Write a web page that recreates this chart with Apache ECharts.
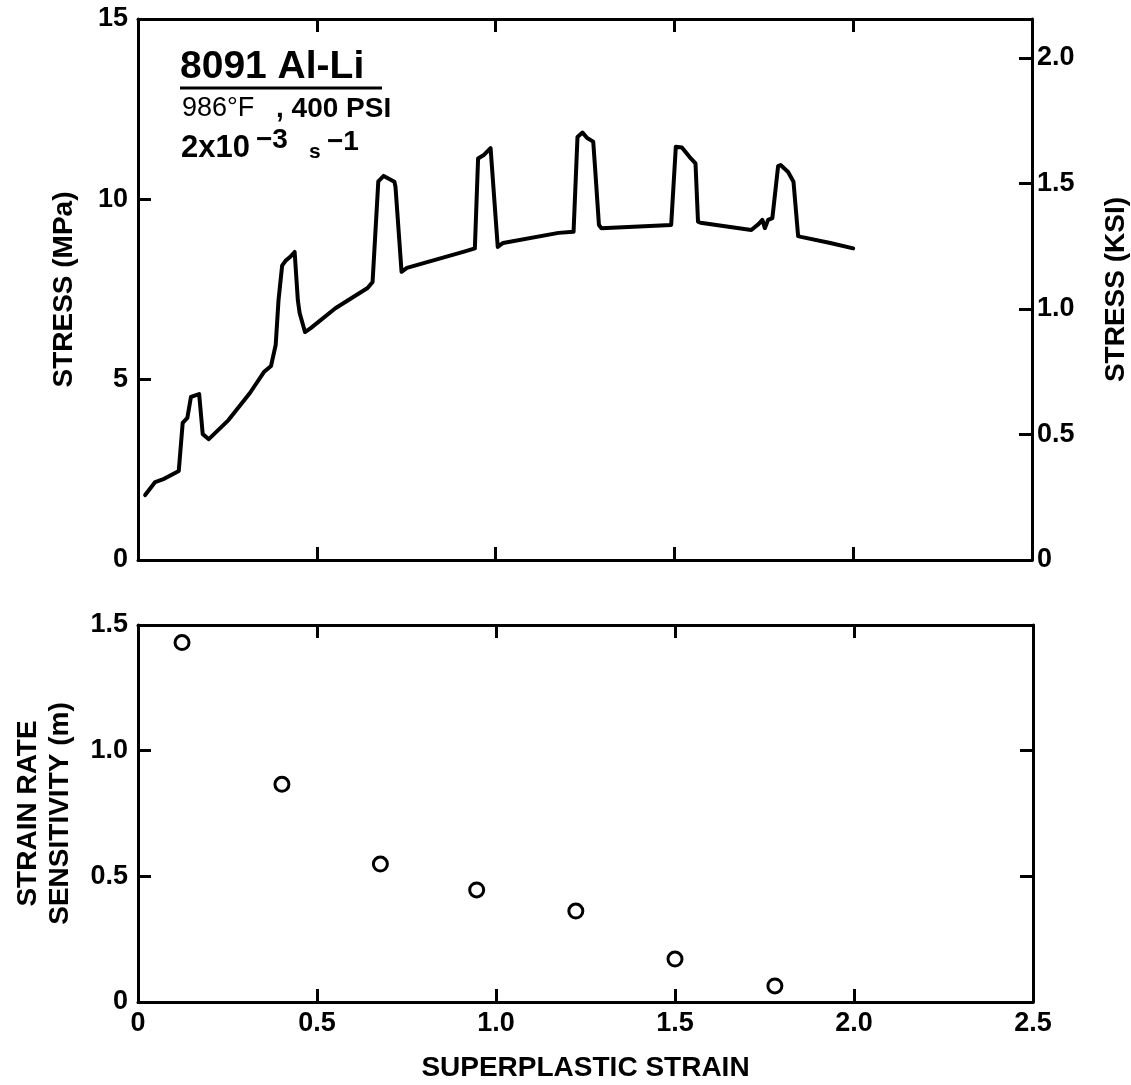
<!DOCTYPE html>
<html>
<head>
<meta charset="utf-8">
<script src="https://cdn.jsdelivr.net/npm/echarts@6/dist/echarts.min.js"></script>
<style>
html,body{margin:0;padding:0;background:#fff;overflow:hidden;}
#chart{width:1131px;height:1085px;}
</style>
</head>
<body>
<div id="chart"></div>
<script>
// ---- data ----
const strain = [0.02,0.048,0.073,0.093,0.114,0.125,0.138,0.148,0.171,0.181,0.198,0.253,0.313,0.352,0.372,0.385,0.393,0.403,0.413,0.425,0.438,0.447,0.452,0.467,0.483,0.552,0.642,0.656,0.672,0.687,0.717,0.72,0.737,0.752,0.912,0.942,0.951,0.966,0.986,0.99,1.006,1.021,1.176,1.218,1.229,1.243,1.256,1.273,1.278,1.289,1.296,1.491,1.504,1.521,1.542,1.559,1.566,1.573,1.715,1.736,1.746,1.753,1.762,1.774,1.79,1.797,1.818,1.833,1.846,1.854,1.936,2.0];
const stressMPa = [1.8,2.16,2.25,2.36,2.47,3.8,3.94,4.52,4.6,3.49,3.35,3.88,4.63,5.21,5.38,5.96,7.21,8.16,8.3,8.4,8.54,7.2,6.85,6.32,6.43,6.98,7.54,7.71,10.5,10.65,10.49,10.35,7.99,8.1,8.55,8.64,11.13,11.22,11.42,11.37,8.68,8.79,9.07,9.1,11.73,11.85,11.7,11.6,10.9,9.29,9.2,9.29,11.46,11.44,11.18,11.0,9.38,9.35,9.15,9.32,9.43,9.2,9.43,9.48,10.92,10.95,10.76,10.49,8.98,8.96,8.79,8.64];
const mStrain = [0.123,0.402,0.677,0.946,1.223,1.5,1.779];
const mValue = [1.43,0.866,0.549,0.446,0.362,0.171,0.064];
const xTickLabels = ['0','0.5','1.0','1.5','2.0','2.5'];
const stressTickLabels = ['0','5','10','15'];
const ksiTickLabels = ['0','0.5','1.0','1.5','2.0'];
const mTickLabels = ['0','0.5','1.0','1.5'];

const FONT = '"Liberation Sans", Arial, Helvetica, sans-serif';
const black = '#000';
const lineW = 3;

function lab(arr, step) {
  return function (v) {
    const i = Math.round(v / step);
    if (Math.abs(v - i * step) > 1e-6) return '';
    return arr[i] !== undefined ? arr[i] : '';
  };
}
const axLine = {show: true, onZero: false, lineStyle: {color: black, width: lineW}};
const tick = {show: true, inside: true, length: 13, lineStyle: {color: black, width: 3}};
const labStyle = {color: black, fontFamily: FONT, fontWeight: 'bold', fontSize: 27};
const nameStyle = {color: black, fontFamily: FONT, fontWeight: 'bold', fontSize: 28};

const chart = echarts.init(document.getElementById('chart'), null, {renderer: 'canvas'});
chart.setOption({
  backgroundColor: '#fff',
  animation: false,
  grid: [
    {left: 138, top: 19, right: 99, height: 541, outerBoundsMode: 'none', containLabel: false},
    {left: 138, top: 625, right: 98, height: 377, outerBoundsMode: 'none', containLabel: false}
  ],
  xAxis: [
    {gridIndex: 0, type: 'value', position: 'bottom', min: 0, max: 2.5, interval: 0.5,
     axisLine: axLine, axisTick: tick, axisLabel: {show: false}, splitLine: {show: false}},
    {gridIndex: 0, type: 'value', position: 'top', min: 0, max: 2.5, interval: 0.5,
     axisLine: axLine, axisTick: tick, axisLabel: {show: false}, splitLine: {show: false}},
    {gridIndex: 1, type: 'value', position: 'bottom', min: 0, max: 2.5, interval: 0.5,
     axisLine: axLine, axisTick: tick, splitLine: {show: false},
     axisLabel: Object.assign({margin: 8, formatter: lab(xTickLabels, 0.5)}, labStyle),
     name: 'SUPERPLASTIC STRAIN', nameLocation: 'middle', nameGap: 52, nameTextStyle: nameStyle},
    {gridIndex: 1, type: 'value', position: 'top', min: 0, max: 2.5, interval: 0.5,
     axisLine: axLine, axisTick: tick, axisLabel: {show: false}, splitLine: {show: false}}
  ],
  yAxis: [
    {gridIndex: 0, type: 'value', position: 'left', min: 0, max: 15, interval: 5,
     axisLine: axLine, axisTick: tick, splitLine: {show: false},
     axisLabel: Object.assign({margin: 10, formatter: lab(stressTickLabels, 5)}, labStyle),
     name: 'STRESS (MPa)', nameLocation: 'middle', nameRotate: 90, nameGap: 60, nameTextStyle: nameStyle},
    {gridIndex: 0, type: 'value', position: 'right', min: 0, max: 2.155, interval: 0.5,
     axisLine: axLine, axisTick: tick, splitLine: {show: false},
     axisLabel: Object.assign({margin: 5, formatter: lab(ksiTickLabels, 0.5), showMaxLabel: false}, labStyle),
     name: 'STRESS (KSI)', nameLocation: 'middle', nameRotate: 90, nameGap: 70, nameTextStyle: nameStyle},
    {gridIndex: 1, type: 'value', position: 'left', min: 0, max: 1.5, interval: 0.5,
     axisLine: axLine, axisTick: tick, splitLine: {show: false},
     axisLabel: Object.assign({margin: 10, formatter: lab(mTickLabels, 0.5)}, labStyle),
     name: 'STRAIN RATE\nSENSITIVITY (m)', nameLocation: 'middle', nameRotate: 90, nameGap: 62,
     nameTextStyle: Object.assign({lineHeight: 32}, nameStyle)},
    {gridIndex: 1, type: 'value', position: 'right', min: 0, max: 1.5, interval: 0.5,
     axisLine: axLine, axisTick: tick, splitLine: {show: false}, axisLabel: {show: false}}
  ],
  series: [
    {type: 'line', xAxisIndex: 0, yAxisIndex: 0, symbol: 'none', smooth: false,
     lineStyle: {color: black, width: 4, join: 'round', cap: 'round'},
     data: strain.map((x, i) => [x, stressMPa[i]])},
    {type: 'scatter', xAxisIndex: 2, yAxisIndex: 2, symbol: 'circle', symbolSize: 14,
     itemStyle: {color: '#fff', borderColor: black, borderWidth: 3, opacity: 1},
     data: mStrain.map((x, i) => [x, mValue[i]])}
  ],
  graphic: [
    {type: 'text', left: 180, top: 48, style: {text: '8091 Al-Li', fill: black, font: 'bold 39px ' + FONT}},
    {type: 'line', shape: {x1: 180, y1: 88, x2: 382, y2: 88}, style: {stroke: black, lineWidth: 3}},
    {type: 'text', left: 182, top: 95, style: {text: '986°F', fill: black, font: 'normal 27px ' + FONT}},
    {type: 'text', left: 276, top: 95, style: {text: ', 400 PSI', fill: black, font: 'bold 28px ' + FONT}},
    {type: 'text', left: 181, top: 133, style: {text: '2x10', fill: black, font: 'bold 31px ' + FONT}},
    {type: 'text', left: 256, top: 126, style: {text: '−3', fill: black, font: 'bold 28px ' + FONT}},
    {type: 'text', left: 309, top: 142, style: {text: 's', fill: black, font: 'bold 21px ' + FONT}},
    {type: 'text', left: 327, top: 128, style: {text: '−1', fill: black, font: 'bold 28px ' + FONT}}
  ]
});
</script>
</body>
</html>
